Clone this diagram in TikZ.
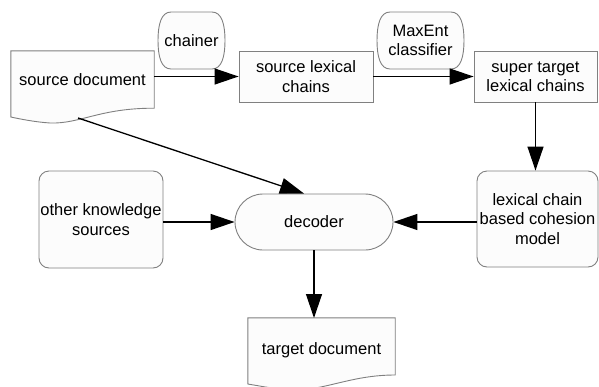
\documentclass[tikz,border=0pt]{standalone}
\usepackage{fontspec}
\setmainfont{Liberation Sans}
\usetikzlibrary{arrows.meta,calc,backgrounds}
\definecolor{boxfill}{HTML}{FCFCFC}
\definecolor{boxline}{HTML}{808080}
\tikzset{
  lbl/.style={font=\fontsize{16.5}{19.5}\selectfont, align=center, inner sep=0pt},
  plainbox/.style={lbl, draw=boxline, fill=boxfill, line width=0.9pt, rectangle},
  roundbox/.style={plainbox, rounded corners=10pt},
  shapeline/.style={draw=boxline, fill=boxfill, line width=0.9pt},
  flow/.style={draw=black, line width=1.3pt, -{Triangle[length=24pt,width=16pt]}},
}
\begin{document}
\begin{tikzpicture}[x=1pt,y=-1pt]
\useasboundingbox (0,0) rectangle (599,386);

% source document (wavy bottom)
\node[lbl, minimum width=143pt, minimum height=57pt] (sd) at (82.5,79.5) {source document};
% target document (wavy bottom)
\node[lbl, minimum width=147pt, minimum height=64pt] (td) at (321.5,350) {target document};

\begin{scope}[on background layer]
\fill[white] (0,0) rectangle (599,386);
\path[shapeline] (sd.north west) -- (sd.north east) -- (sd.south east)
  .. controls (100,108) and (80,124) .. (50,123)
  .. controls (35,122) and (20,119) .. (sd.south west |- 0,117) -- cycle;
\path[shapeline] (td.north west) -- (td.north east) -- (td.north east |- 0,375)
  .. controls (350,375) and (325,391) .. (290,390)
  .. controls (275,389) and (260,386) .. (td.west |- 0,384) -- cycle;
\end{scope}

% chainer
\path[shapeline] (171,12) -- (212,12) .. controls (222,12) and (225,25) .. (225,40.5)
  .. controls (225,56) and (222,69) .. (212,69) -- (171,69)
  .. controls (161,69) and (158,56) .. (158,40.5)
  .. controls (158,25) and (161,12) .. (171,12) -- cycle;
\node[lbl] (chainer) at (191.5,40.5) {chainer};

% MaxEnt classifier
\path[shapeline] (390,12) -- (451,12) .. controls (461,12) and (464,25) .. (464,40.5)
  .. controls (464,56) and (461,69) .. (451,69) -- (390,69)
  .. controls (380,69) and (377,56) .. (377,40.5)
  .. controls (377,25) and (380,12) .. (390,12) -- cycle;
\node[lbl] (maxent) at (420.5,40.5) {MaxEnt\\classifier};

% boxes
\node[plainbox, minimum width=134pt, minimum height=51pt] (slc) at (306,76.5) {source lexical\\chains};
\node[plainbox, minimum width=123pt, minimum height=51pt] (stlc) at (535.5,76.5) {super target\\lexical chains};
\node[roundbox, minimum width=121pt, minimum height=96pt] (cohesion) at (537.5,219) {lexical chain\\based cohesion\\model};
\node[roundbox, minimum width=124pt, minimum height=97pt] (other) at (101,219.5) {other knowledge\\sources};
\node[plainbox, rounded corners=28pt, minimum width=158pt, minimum height=56pt] (decoder) at (314,222) {decoder};

% connectors
\draw[flow] (sd.east |- slc.west) -- (slc.west);
\draw[flow] (slc.east) -- (stlc.west);
\draw[flow] (stlc.south) -- (cohesion.north -| stlc.south);
\coordinate (sdb) at (78,118);
\draw[flow] (sdb) -- ([xshift=-10pt]decoder.north);
\draw[flow] (other.east |- decoder.west) -- (decoder.west);
\draw[flow] (cohesion.west |- decoder.east) -- (decoder.east);
\draw[flow] (decoder.south) -- (decoder.south |- 0,318);
\end{tikzpicture}
\end{document}
